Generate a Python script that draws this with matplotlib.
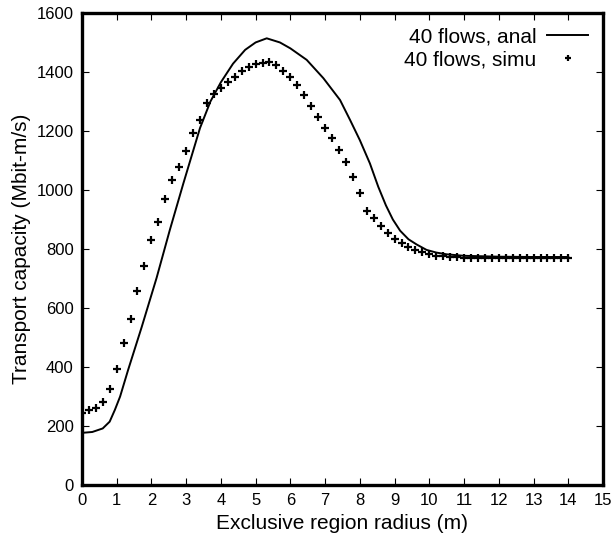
import matplotlib
matplotlib.use("Agg")
import matplotlib.pyplot as plt

plt.rcParams["font.family"] = ["Liberation Sans", "DejaVu Sans"]

# analytical curve
anal_x = [0.0, 0.3, 0.6, 0.8, 0.95, 1.1, 1.33, 1.72, 2.15, 2.53, 2.92, 3.4,
          3.7, 4.0, 4.35, 4.7, 5.0, 5.32, 5.7, 6.0, 6.47, 6.95, 7.43,
          7.72, 8.0, 8.29, 8.53, 8.75, 8.95, 9.16, 9.4, 9.64, 9.92, 10.2,
          10.5, 11.0, 12.0, 13.0, 14.0]
anal_y = [177, 180, 192, 215, 255, 300, 390, 535, 702, 864, 1022, 1210,
          1300, 1365, 1428, 1475, 1500, 1514, 1500, 1480, 1441, 1379, 1305,
          1237, 1169, 1090, 1011, 948, 900, 862, 833, 815, 797, 788,
          782, 777, 774, 773, 773]

# simulation points, every 0.2 m
simu_x = [round(0.2 * i, 1) for i in range(71)]
simu_y = [243, 254, 262, 282, 326, 392, 480, 563, 658, 742,
          830, 893, 968, 1034, 1079, 1133, 1192, 1237, 1294, 1324,
          1347, 1367, 1384, 1403, 1416, 1427, 1431, 1435, 1424, 1404,
          1382, 1356, 1322, 1285, 1246, 1209, 1175, 1136, 1094, 1043,
          991, 929, 904, 879, 853, 833, 819, 806, 797, 789,
          783, 777, 775, 773, 772, 771, 770, 770, 770, 770,
          770, 770, 770, 770, 770, 770, 770, 770, 770, 770,
          770]

x_ticks = list(range(0, 16))
y_ticks = list(range(0, 1601, 200))

fig = plt.figure(figsize=(6.11, 5.39), dpi=100)
ax = fig.add_axes([0.134, 0.100, 0.853, 0.876])

ax.plot(anal_x, anal_y, color="black", linewidth=1.4, label="40 flows, anal")
ax.plot(simu_x, simu_y, linestyle="none", marker="+", markersize=5.5,
        markeredgewidth=1.6, color="black", label="40 flows, simu")

ax.set_xlim(0, 15)
ax.set_ylim(0, 1600)
ax.set_xticks(x_ticks)
ax.set_yticks(y_ticks)
ax.tick_params(direction="in", length=5, width=0.8, top=True, right=True,
               labelsize=12, pad=6)
for spine in ax.spines.values():
    spine.set_linewidth(2.4)

ax.set_xlabel("Exclusive region radius (m)", fontsize=15, labelpad=4)
ax.set_ylabel("Transport capacity (Mbit-m/s)", fontsize=15, labelpad=4)

ax.legend(loc="upper right", frameon=False, markerfirst=False, fontsize=15,
          handlelength=2.0, borderaxespad=0.3, labelspacing=0.2,
          handletextpad=0.5, markerscale=0.7)

fig.savefig("out.png", dpi=100)
